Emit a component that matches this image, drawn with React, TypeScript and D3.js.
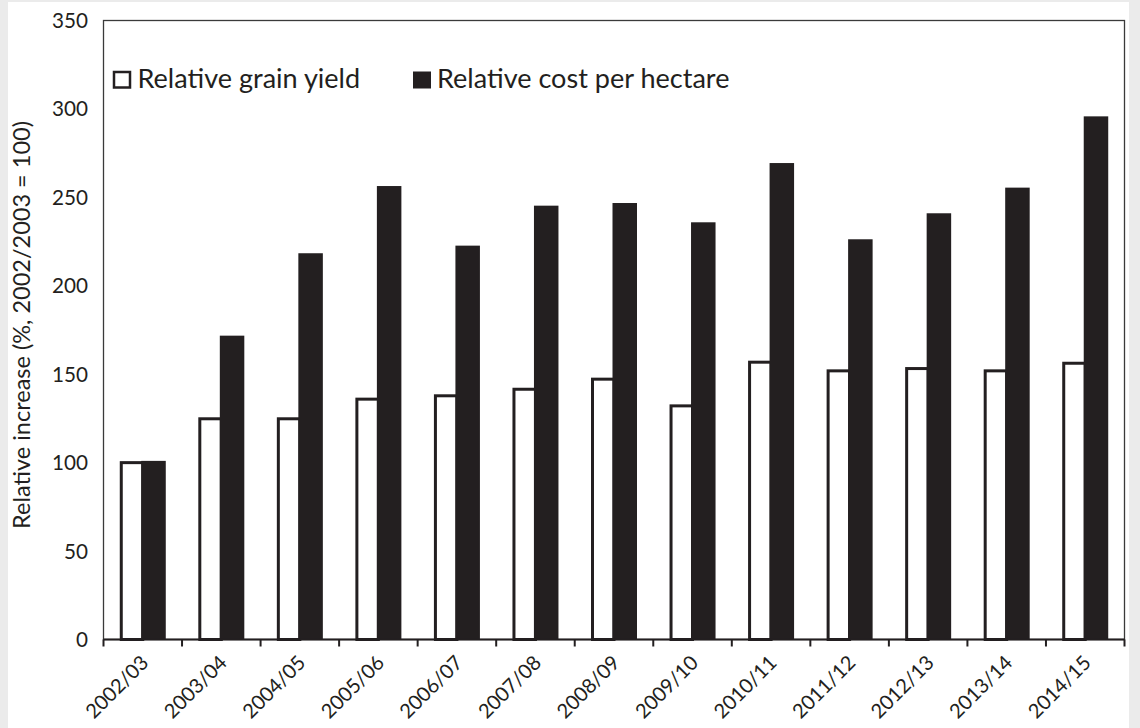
import React, { useMemo } from "react";
import * as d3 from "d3";

const categories = ["2002/03","2003/04","2004/05","2005/06","2006/07","2007/08","2008/09","2009/10","2010/11","2011/12","2012/13","2013/14","2014/15"];
const grainYield = [100, 124.8, 124.8, 135.9, 137.8, 141.5, 147.2, 132.1, 156.8, 151.9, 153.2, 151.9, 156.2];
const costPerHectare = [101, 171.8, 218.4, 256.4, 222.7, 245.3, 246.8, 235.9, 269.4, 226.3, 241.0, 255.5, 295.8];
const yTicks = [0, 50, 100, 150, 200, 250, 300, 350];
const legendLabels = ["Relative grain yield", "Relative cost per hectare"];
const yLabel = "Relative increase (%, 2002/2003 = 100)";

const W = 1140, H = 728;
const L = 103.5, R = 1124.5, T = 20.5, B = 639.5;
const ink = "#231f20";
const family = "Lato";
const font = "Lato, 'Open Sans', sans-serif";

function fitSize(text: string, target: number, fallback: number): number {
  try {
    const c = document.createElement("canvas");
    const ctx = c.getContext("2d");
    if (!ctx) return fallback;
    ctx.font = `100px ${family}`;
    const w = ctx.measureText(text).width;
    if (!w) return fallback;
    return (target / w) * 100;
  } catch (e) {
    return fallback;
  }
}

export default function App() {
  const x = d3.scaleBand<string>().domain(categories).range([L, R]).padding(0);
  const y = d3.scaleLinear().domain([0, 350]).range([B, T]);
  const bw = x.bandwidth();
  const boundaries = d3.range(categories.length + 1).map((i) => L + i * bw);

  const sizes = useMemo(() => {
    const legend = (fitSize(legendLabels[0], 222, 27) + fitSize(legendLabels[1], 295, 27)) / 2;
    return {
      legend,
      yLabel: fitSize(yLabel, 408, 24),
      yTick: fitSize("350", 36, 20.5),
      xTick: fitSize("2002/03", 79, 20.5),
    };
  }, []);

  return (
    <svg width={W} height={H} style={{ position: "absolute", left: 0, top: 0 }} fontFamily={font}>
      <rect x={0} y={0} width={W} height={H} fill="#ebebeb" />
      <rect x={8} y={2} width={1121} height={H - 2} fill="#ffffff" />
      <rect x={L} y={T} width={R - L} height={B - T} fill="none" stroke="#3a3a3a" strokeWidth={1.3} />
      {categories.map((c, i) => {
        const cx = (x(c) as number) + bw / 2;
        return (
          <g key={c}>
            <rect x={cx - 21.5} y={y(grainYield[i])} width={21.5} height={B - y(grainYield[i])} fill="#ffffff" stroke={ink} strokeWidth={3} />
            <rect x={cx - 1.5} y={y(costPerHectare[i])} width={24.5} height={B - y(costPerHectare[i])} fill={ink} />
          </g>
        );
      })}
      <line x1={L} x2={R} y1={B} y2={B} stroke={ink} strokeWidth={2} />
      {boundaries.map((bx, i) => (
        <line key={i} x1={bx} x2={bx} y1={B} y2={B + 7} stroke={ink} strokeWidth={2} />
      ))}
      {categories.map((c) => {
        const cx = (x(c) as number) + bw / 2;
        return (
          <text key={c} transform={`translate(${cx + 7},${664}) rotate(-45)`} textAnchor="end" fontSize={sizes.xTick} fill={ink}>
            {c}
          </text>
        );
      })}
      {yTicks.map((t) => (
        <text key={t} x={88} y={y(t)} dy="0.36em" textAnchor="end" fontSize={sizes.yTick} fill={ink}>
          {t}
        </text>
      ))}
      <text transform={`translate(30,${325}) rotate(-90)`} textAnchor="middle" fontSize={sizes.yLabel} fill={ink}>
        {yLabel}
      </text>
      <rect x={114} y={72} width={16} height={15.5} fill="#fff" stroke={ink} strokeWidth={2.5} />
      <text x={137.5} y={88} fontSize={sizes.legend} fill={ink}>{legendLabels[0]}</text>
      <rect x={413} y={71.5} width={18} height={17} fill={ink} />
      <text x={437} y={88} fontSize={sizes.legend} fill={ink}>{legendLabels[1]}</text>
    </svg>
  );
}
